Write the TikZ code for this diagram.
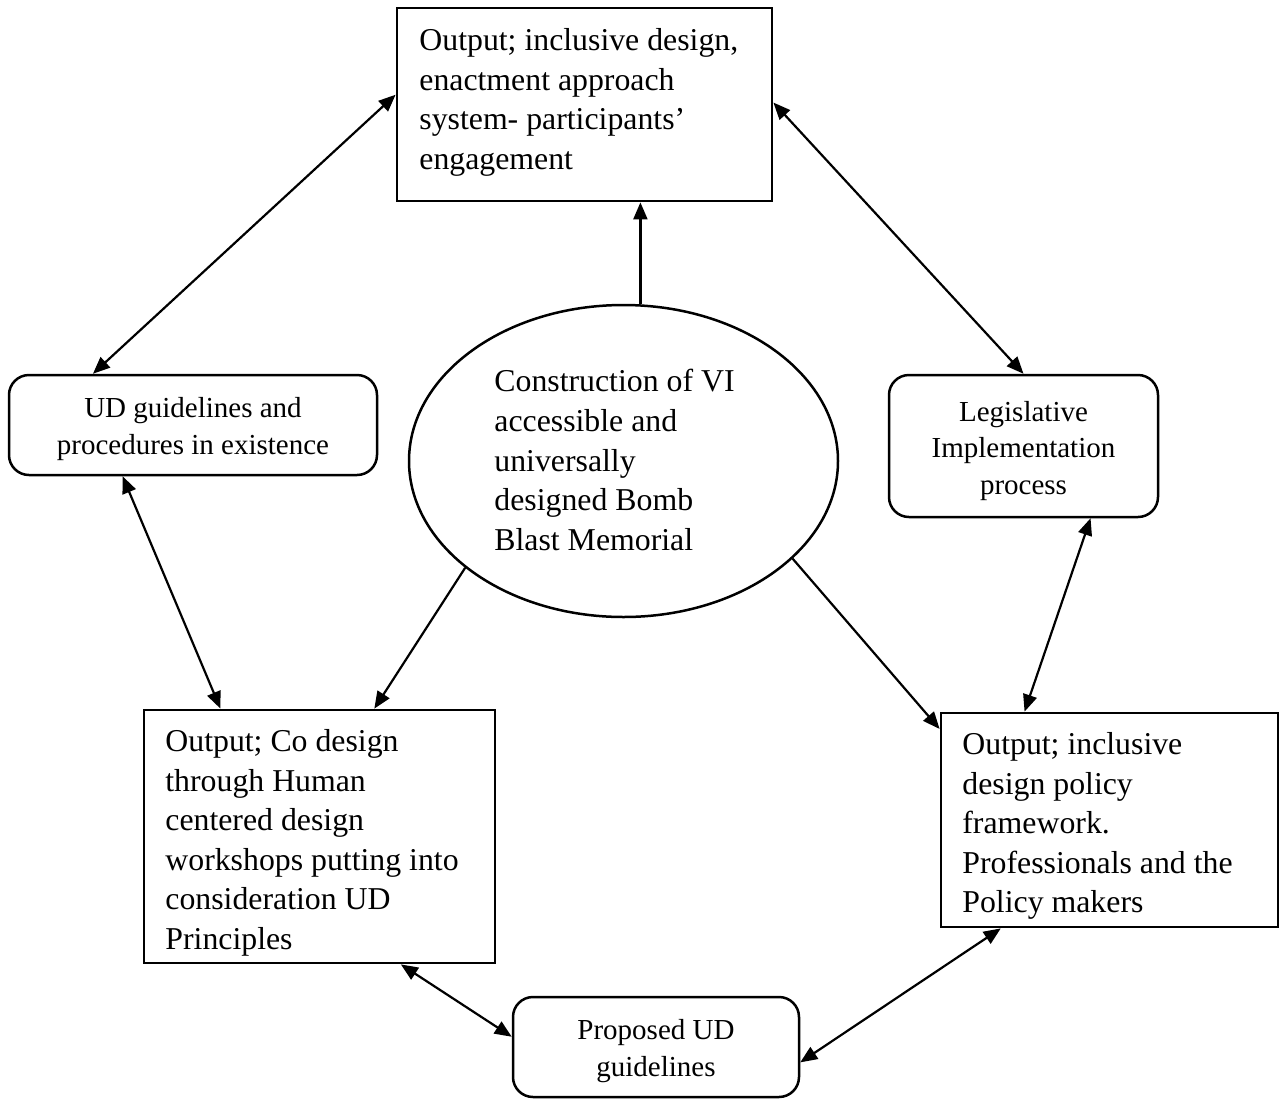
\documentclass[tikz,border=0pt]{standalone}
\usepackage{fontspec}
\setmainfont{Liberation Serif}
\usetikzlibrary{arrows.meta,calc,shapes.geometric}
\begin{document}
\begin{tikzpicture}[x=0.5pt,y=-0.5pt,
  sqbox/.style={draw,line width=1.4pt,inner sep=0pt},
  rbox/.style={draw,line width=1.25pt,rounded corners=10pt,inner sep=0pt},
  smalltext/.style={inner sep=0pt,align=center,font=\fontsize{14.5}{18.3}\selectfont},
  oval/.style={draw,ellipse,line width=1.25pt,inner sep=0pt},
  bigtext/.style={anchor=north west,inner sep=0pt,align=left,font=\fontsize{15.9}{19.8}\selectfont},
  conn/.style={line width=1.1pt,-{Triangle[length=8.5pt,width=7pt]}},
  biconn/.style={line width=1.1pt,{Triangle[length=8.5pt,width=7pt]}-{Triangle[length=8.5pt,width=7pt]}}]
\fill[white] (0,0) rectangle (1287,1099);
\useasboundingbox (0,0) rectangle (1287,1099);

% boxes
\node[sqbox,minimum width=187.5pt,minimum height=96.5pt] (top) at (584.5,104.5) {};
\node[bigtext] (toptxt) at (419,28) {Output; inclusive design,\\enactment approach\\system- participants’\\engagement};

\node[rbox,minimum width=184pt,minimum height=50pt] (ud) at (193,425) {};
\node[smalltext] (udtxt) at ($(ud.center)+(0,4)$) {UD guidelines and\\procedures in existence};
\node[rbox,minimum width=134.5pt,minimum height=71pt] (leg) at (1023.5,446) {};
\node[smalltext] (legtxt) at ($(leg.center)+(0,5)$) {Legislative\\Implementation\\process};

\node[oval,minimum width=214.5pt,minimum height=156pt] (ell) at (623.5,461) {};
\node[bigtext] (elltxt) at (494,369) {Construction of VI\\accessible and\\universally\\designed Bomb\\Blast Memorial};

\node[sqbox,minimum width=175.5pt,minimum height=126.5pt] (lb) at (319.5,836.5) {};
\node[bigtext] (lbtxt) at (165,729) {Output; Co design\\through Human\\centered design\\workshops putting into\\consideration UD\\Principles};

\node[sqbox,minimum width=168.5pt,minimum height=107pt] (rb) at (1109.5,820) {};
\node[bigtext] (rbtxt) at (962,732) {Output; inclusive\\design policy\\framework.\\Professionals and the\\Policy makers};

\node[rbox,minimum width=143pt,minimum height=50pt] (prop) at (656,1047) {};
\node[smalltext] (proptxt) at ($(prop.center)+(0,4)$) {Proposed UD\\guidelines};

% connectors
\draw[biconn] ($(ud.north west)!0.23!(ud.north east)$) -- ($(top.north west)!0.45!(top.south west)$);
\draw[biconn] ($(top.north east)!0.49!(top.south east)$) -- (leg.north);
\coordinate (t3) at ($(top.south west)!0.648!(top.south east)$);
\draw[conn] (t3 |- ell.north) -- (t3);
\draw[biconn] ($(ud.south west)!0.31!(ud.south east)$) -- ($(lb.north west)!0.22!(lb.north east)$);
\draw[conn] (ell.214.4) -- ($(lb.north west)!0.655!(lb.north east)$);
\draw[conn] (ell.330) -- ($(rb.north west)!0.08!(rb.south west)$);
\draw[biconn] ($(leg.south west)!0.747!(leg.south east)$) -- ($(rb.north west)!0.25!(rb.north east)$);
\draw[biconn] ($(lb.south west)!0.73!(lb.south east)$) -- ($(prop.north west)!0.4!(prop.south west)$);
\draw[biconn] ($(prop.north east)!0.65!(prop.south east)$) -- ($(rb.south west)!0.18!(rb.south east)$);
\end{tikzpicture}
\end{document}
